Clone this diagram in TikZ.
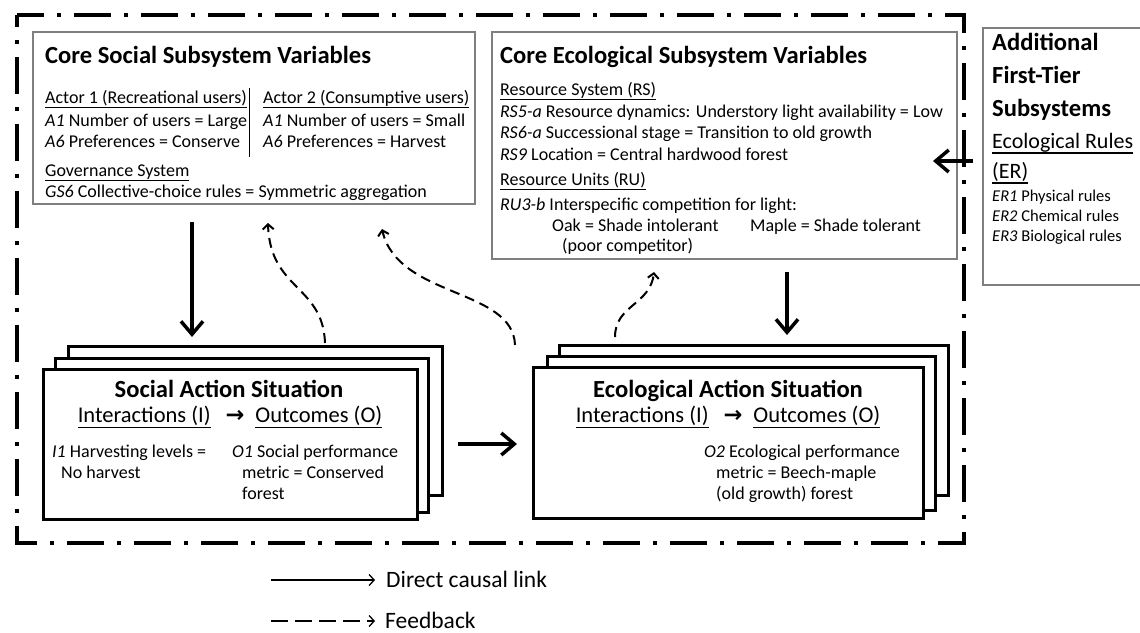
\documentclass[tikz,border=0pt]{standalone}
\usepackage{fontspec}
\setmainfont{Carlito}
\newfontfamily\dejavu{DejaVu Sans}
\usetikzlibrary{arrows.meta,calc}
\definecolor{boxgray}{RGB}{127,127,127}
\newcommand\ulx[1]{\setbox0\hbox{#1}\rlap{\rule[-0.27em]{\wd0}{0.07em}}\box0}
\begin{document}
\begin{tikzpicture}[x=1pt,y=-1pt,
  frame/.style={line width=4pt, dash pattern=on 37pt off 13pt on 4pt off 13pt, dash phase=10pt},
  varbox/.style={draw=boxgray, line width=1.1pt, fill=white, inner sep=0pt, outer sep=0pt, anchor=north west},
  asbox/.style={draw=black, line width=3pt, fill=white, inner sep=0pt, outer sep=0pt, anchor=north west},
  txt/.style={inner sep=0pt, anchor=base west, font=\fontsize{18}{21}\selectfont},
  ttl/.style={inner sep=0pt, anchor=base west, font=\fontsize{24.6}{28}\selectfont\bfseries},
  iat/.style={inner sep=0pt, anchor=base, font=\fontsize{22.5}{26}\selectfont},
  ert/.style={inner sep=0pt, anchor=base west, font=\fontsize{22}{26}\selectfont},
  sml/.style={inner sep=0pt, anchor=base west, font=\fontsize{16.5}{20}\selectfont},
  legt/.style={inner sep=0pt, anchor=base west, font=\fontsize{23.5}{28}\selectfont},
  causal/.style={line width=3.5pt, -{Straight Barb[length=13pt,width=22pt]}},
  fb/.style={line width=2pt, dash pattern=on 10pt off 6pt, -{Straight Barb[length=5pt,width=11pt]}},
  legsolid/.style={line width=1.3pt, -{Straight Barb[length=5pt,width=11pt]}},
  legdash/.style={line width=1.3pt, dash pattern=on 17pt off 7pt, -{Straight Barb[length=5pt,width=11pt]}}
]
\useasboundingbox (0,0) rectangle (1140,632);

% outer dash-dot frame
\draw[frame] (17,15) -- (964,15) -- (964,543) -- (17,543) -- cycle;

% variable boxes
\node[varbox, minimum width=442pt, minimum height=172pt] (socvar) at (33,32) {};
\node[varbox, minimum width=465pt, minimum height=227pt] (ecovar) at (492,32) {};
\node[varbox, minimum width=175pt, minimum height=257pt] (addl) at (983,28) {};

% social variables text
\node[ttl] (sv0) at (45,63) {Core Social Subsystem Variables};
\node[txt] (sv1) at (45,103) {\ulx{Actor 1 (Recreational users)}};
\node[txt] (sv2) at (45,126) {\textit{A1} Number of users = Large};
\node[txt] (sv3) at (45,147) {\textit{A6} Preferences = Conserve};
\node[txt] (sv4) at (263,103) {\ulx{Actor 2 (Consumptive users)}};
\node[txt] (sv5) at (263,126) {\textit{A1} Number of users = Small};
\node[txt] (sv6) at (263,147) {\textit{A6} Preferences = Harvest};
\node[txt] (sv7) at (45,176) {\ulx{Governance System}};
\node[txt] (sv8) at (45,197) {\textit{GS6} Collective-choice rules = Symmetric aggregation};
\draw[line width=1pt] (249,88) -- (249,157);

% ecological variables text
\node[ttl] (ev0) at (500,63) {Core Ecological Subsystem Variables};
\node[txt] (ev1) at (500,95) {\ulx{Resource System (RS)}};
\node[txt] (ev2) at (500,117) {\textit{RS5-a} Resource dynamics: Understory light availability = Low};
\node[txt] (ev3) at (500,138) {\textit{RS6-a} Successional stage = Transition to old growth};
\node[txt] (ev4) at (500,160) {\textit{RS9} Location = Central hardwood forest};
\node[txt] (ev5) at (500,185) {\ulx{Resource Units (RU)}};
\node[txt] (ev6) at (500,210) {\textit{RU3-b} Interspecific competition for light:};
\node[txt] (ev7) at (552,231) {Oak = Shade intolerant};
\node[txt] (ev8) at (750,231) {Maple = Shade tolerant};
\node[txt] (ev9) at (562,251) {(poor competitor)};

% additional subsystems text
\node[ttl] (ad1) at (992,50) {Additional};
\node[ttl] (ad2) at (992,83) {First-Tier};
\node[ttl] (ad3) at (992,116) {Subsystems};
\node[ert] (ad4) at (992,148) {\ulx{Ecological Rules}};
\node[ert] (ad5) at (992,178) {\ulx{(ER)}};
\node[sml] (ad6) at (992,201) {\textit{ER1} Physical rules};
\node[sml] (ad7) at (992,221) {\textit{ER2} Chemical rules};
\node[sml] (ad8) at (992,241) {\textit{ER3} Biological rules};

% social action situation stack
\node[asbox, minimum width=374pt, minimum height=149pt] (socAS3) at (68,346) {};
\node[asbox, minimum width=373pt, minimum height=154pt] (socAS2) at (55,358) {};
\node[asbox, minimum width=374pt, minimum height=150pt] (socAS) at (43,369) {};
\node[ttl, anchor=base] (sa0) at (229,397) {Social Action Situation};
\node[iat] (sa1) at (230,422) {\ulx{Interactions (I)}\hspace{15pt}{\dejavu\bfseries →}\hspace{11pt}\ulx{Outcomes (O)}};
\node[txt] (sa2) at (52,457) {\textit{I1} Harvesting levels =};
\node[txt] (sa3) at (61,478) {No harvest};
\node[txt] (sa4) at (232,457) {\textit{O1} Social performance};
\node[txt] (sa5) at (242,478) {metric = Conserved};
\node[txt] (sa6) at (242,499) {forest};

% ecological action situation stack
\node[asbox, minimum width=389pt, minimum height=150pt] (ecoAS3) at (559,345) {};
\node[asbox, minimum width=388pt, minimum height=154pt] (ecoAS2) at (547,356) {};
\node[asbox, minimum width=390pt, minimum height=151pt] (ecoAS) at (533,367) {};
\node[ttl, anchor=base] (ea0) at (728,397) {Ecological Action Situation};
\node[iat] (ea1) at (728,422) {\ulx{Interactions (I)}\hspace{15pt}{\dejavu\bfseries →}\hspace{11pt}\ulx{Outcomes (O)}};
\node[txt] (ea2) at (704,457) {\textit{O2} Ecological performance};
\node[txt] (ea3) at (716,478) {metric = Beech-maple};
\node[txt] (ea4) at (716,499) {(old growth) forest};

% direct causal links
\draw[causal] ($(socvar.south)+(-62,18)$) -- ($(socAS3.north)+(-63,-9)$);
\draw[causal] ($(ecovar.south)+(62.5,13)$) -- ($(ecoAS3.north)+(33.5,-10)$);
\draw[causal] ($(socAS.east)+(41,0)$) -- ($(socAS.east -| ecoAS.west)+(-16,0)$);
\coordinate (addtip) at ($(ecovar.east)+(-24,15.5)$);
\draw[causal] ($(addl.west)+(-10,4.5)$) -- (addtip);

% feedbacks
\draw[fb] ($(socAS3.north)+(70,-3)$) .. controls (323,285) and (270,290) .. ($(socvar.south)+(14,19)$);
\draw[fb] ($(ecoAS3.north west)+(-44,0)$) .. controls (513,288) and (398,298) .. ($(socvar.south)+(128,25)$);
\draw[fb] ($(ecoAS3.north west)+(56,-8)$) .. controls (615,305) and (650,305) .. ($(ecovar.south west)+(162,13)$);

% legend
\node[legt] (legA) at (386,587) {Direct causal link};
\node[legt] (legB) at (385,628) {Feedback};
\coordinate (legAs) at (271,580);
\coordinate (legBs) at (271,621);
\draw[legsolid, shorten >=11pt] (legAs) -- (legAs -| legA.west);
\draw[legdash, shorten >=10pt] (legBs) -- (legBs -| legB.west);
\end{tikzpicture}
\end{document}
